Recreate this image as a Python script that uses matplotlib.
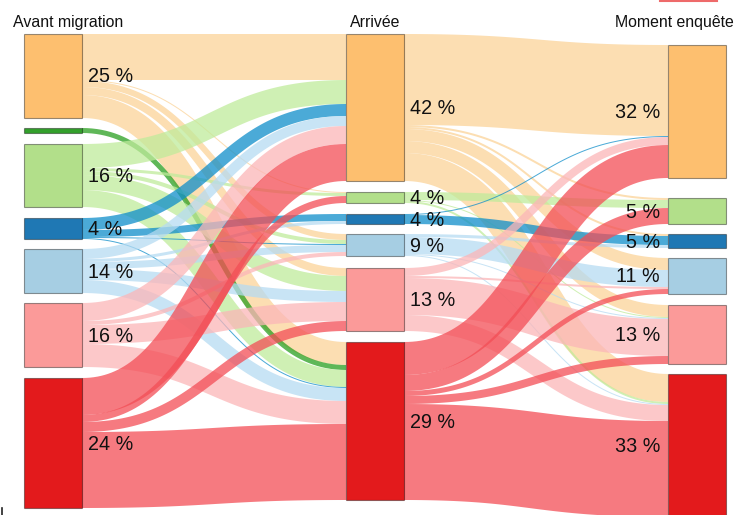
import numpy as np
import matplotlib.pyplot as plt
from matplotlib.patches import Polygon, Rectangle

plt.rcParams['font.family'] = ['Liberation Sans', 'DejaVu Sans']

# columns and nodes (o=orange, dg=dark green, lg=light green, db=dark blue,
# lb=light blue, p=pink, r=red)
titles = ['Avant migration', 'Arrivée', 'Moment enquête']
left_nodes = ['o', 'dg', 'lg', 'db', 'lb', 'p', 'r']
mid_nodes = ['o', 'lg', 'db', 'lb', 'p', 'r']
right_nodes = ['o', 'lg', 'db', 'lb', 'p', 'r']

left_labels = ['25 %', '', '16 %', '4 %', '14 %', '16 %', '24 %']
mid_labels = ['42 %', '4 %', '4 %', '9 %', '13 %', '29 %']
right_labels = ['32 %', '5 %', '5 %', '11 %', '13 %', '33 %']

# flows avant migration -> arrivée
flows_arrival = [
    ('o', 'o', 46), ('o', 'lg', 1), ('o', 'lb', 6), ('o', 'p', 8), ('o', 'r', 23),
    ('dg', 'r', 5),
    ('lg', 'o', 24), ('lg', 'lg', 3), ('lg', 'lb', 4), ('lg', 'p', 15), ('lg', 'r', 17),
    ('db', 'o', 12), ('db', 'db', 7), ('db', 'lb', 1), ('db', 'r', 1),
    ('lb', 'o', 10), ('lb', 'db', 3), ('lb', 'lb', 7), ('lb', 'p', 11), ('lb', 'r', 13),
    ('p', 'o', 18), ('p', 'lb', 4), ('p', 'p', 19), ('p', 'r', 23),
    ('r', 'o', 37), ('r', 'lg', 7), ('r', 'p', 10), ('r', 'r', 76),
]

# flows arrivée -> moment enquête
flows_survey = [
    ('o', 'o', 91), ('o', 'lg', 2), ('o', 'db', 2), ('o', 'lb', 12), ('o', 'p', 12), ('o', 'r', 28),
    ('lg', 'lg', 8), ('lg', 'p', 1), ('lg', 'r', 2),
    ('db', 'o', 1), ('db', 'db', 9),
    ('lb', 'db', 3), ('lb', 'lb', 17), ('lb', 'p', 1), ('lb', 'r', 1),
    ('p', 'o', 8), ('p', 'lb', 2), ('p', 'p', 37), ('p', 'r', 16),
    ('r', 'o', 33), ('r', 'lg', 16), ('r', 'lb', 5), ('r', 'p', 8), ('r', 'r', 96),
]

node_colors = {'o': '#fdbf6f', 'dg': '#33a02c', 'lg': '#b2df8a', 'db': '#1f78b4',
               'lb': '#a6cee3', 'p': '#fb9a99', 'r': '#e31a1c'}
link_colors = {'o': '#fbd398', 'dg': '#2a9f20', 'lg': '#c0eb9b', 'db': '#0f8eca',
               'lb': '#b6dbf2', 'p': '#fbb6b8', 'r': '#f34e56'}

# layout (pixel-like units)
col_x = [24, 346, 668]
node_w = 58
col_top = [34, 34, 45]
col_gaps = [[10, 11, 11, 10, 10, 11], [11, 11, 10, 12, 11], [20, 10, 10, 11, 10]]

columns = [left_nodes, mid_nodes, right_nodes]
flow_sets = [flows_arrival, flows_survey]

# node sizes from flows
sizes = []
for c, nodes in enumerate(columns):
    s = {}
    for n in nodes:
        out_v = sum(v for a, b, v in flow_sets[c] if a == n) if c < 2 else 0
        in_v = sum(v for a, b, v in flow_sets[c - 1] if b == n) if c > 0 else 0
        s[n] = max(out_v, in_v)
    sizes.append(s)

tops = []
for c, nodes in enumerate(columns):
    y = col_top[c]
    t = {}
    for i, n in enumerate(nodes):
        t[n] = y
        y += sizes[c][n] + (col_gaps[c][i] if i < len(col_gaps[c]) else 0)
    tops.append(t)


def band(x0, y0, x1, y1, w, n=80):
    t = np.linspace(0, 1, n)
    xm = (x0 + x1) / 2
    bx = (1 - t)**3 * x0 + 3 * (1 - t)**2 * t * xm + 3 * (1 - t) * t**2 * xm + t**3 * x1
    by = (1 - t)**3 * y0 + 3 * (1 - t)**2 * t * y0 + 3 * (1 - t) * t**2 * y1 + t**3 * y1
    dx = 3 * (1 - t)**2 * (xm - x0) + 3 * t**2 * (x1 - xm)
    dy = 6 * (1 - t) * t * (y1 - y0)
    norm = np.hypot(dx, dy)
    nx, ny = -dy / norm, dx / norm
    up = np.column_stack([bx + nx * w / 2, by + ny * w / 2])
    lo = np.column_stack([bx - nx * w / 2, by - ny * w / 2])
    return np.vstack([up, lo[::-1]])


fig = plt.figure(figsize=(7.35, 5.15), dpi=100)
ax = fig.add_axes([0, 0, 1, 1])
ax.set_xlim(0, 735)
ax.set_ylim(515, 0)
ax.axis('off')

for c, flows in enumerate(flow_sets):
    src_top, dst_top = tops[c], tops[c + 1]
    # offsets: outgoing sorted by target position, incoming by source position
    out_off, in_off = {}, {}
    for n in columns[c]:
        y = src_top[n]
        for f in sorted([f for f in flows if f[0] == n], key=lambda f: dst_top[f[1]]):
            out_off[f] = y
            y += f[2]
    for n in columns[c + 1]:
        y = dst_top[n]
        for f in sorted([f for f in flows if f[1] == n], key=lambda f: src_top[f[0]]):
            in_off[f] = y
            y += f[2]
    x0 = col_x[c] + node_w
    x1 = col_x[c + 1]
    for f in flows:
        w = f[2]
        pts = band(x0, out_off[f] + w / 2, x1, in_off[f] + w / 2, w)
        ax.add_patch(Polygon(pts, closed=True, facecolor=link_colors[f[0]],
                             edgecolor='none', alpha=0.75))

labels = [left_labels, mid_labels, right_labels]
for c, nodes in enumerate(columns):
    for i, n in enumerate(nodes):
        y, h = tops[c][n], sizes[c][n]
        ax.add_patch(Rectangle((col_x[c], y), node_w, h, facecolor=node_colors[n],
                               edgecolor=(0, 0, 0, 0.4), lw=0.8))
        if labels[c][i]:
            if c < 2:
                ax.text(col_x[c] + node_w + 6.5, y + h / 2 + 1, labels[c][i],
                        ha='left', va='center', fontsize=14.2, color='#111111')
            else:
                ax.text(col_x[c] - 8, y + h / 2 + 1, labels[c][i],
                        ha='right', va='center', fontsize=14.2, color='#111111')

ax.text(13, 27, titles[0], ha='left', va='baseline', fontsize=11.4, color='#111111')
ax.text(col_x[1] + node_w / 2, 27, titles[1], ha='center', va='baseline',
        fontsize=11.4, color='#111111')
ax.text(734, 27, titles[2], ha='right', va='baseline', fontsize=11.4, color='#111111')

# small leftovers at the image border
ax.plot([660, 717], [0.7, 0.7], color='#ee6a6a', lw=1.5)
ax.plot([2, 2], [508, 515], color='#222222', lw=1.2)

fig.savefig('out.png', dpi=100)
